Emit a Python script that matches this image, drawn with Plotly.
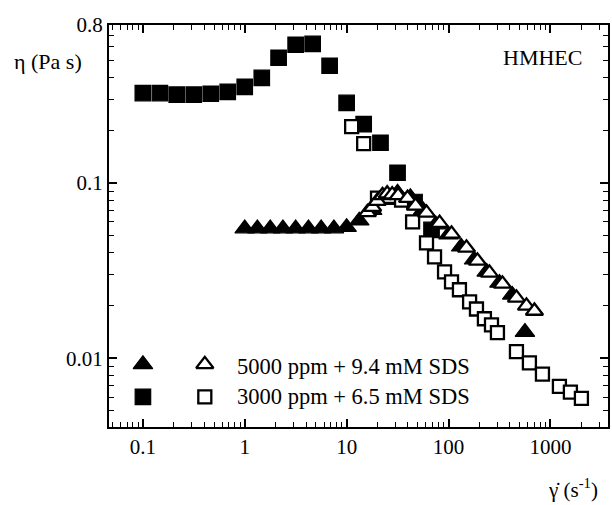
import plotly.graph_objects as go

# Shear rate (1/s) and viscosity (Pa s) for HMHEC solutions
# 3000 ppm + 6.5 mM SDS, low-shear instrument (filled squares)
rate_3000_low = [0.1, 0.147, 0.215, 0.316, 0.464, 0.681, 1.0, 1.47, 2.15, 3.16,
                 4.64, 6.81, 10.0, 14.7, 21.5, 31.6, 46.4, 68.1]
visc_3000_low = [0.327, 0.327, 0.320, 0.320, 0.324, 0.332, 0.355, 0.399, 0.520, 0.617,
                 0.624, 0.468, 0.287, 0.217, 0.170, 0.1146, 0.078, 0.054]

# 3000 ppm + 6.5 mM SDS, high-shear instrument (open squares)
rate_3000_high = [11.2, 14.7, 20.1, 26.4, 34.6, 44.4, 60.8, 72.9, 91.4, 107, 128, 161,
                  188, 225, 264, 302, 464, 622, 835, 1225, 1570, 2014]
visc_3000_high = [0.210, 0.168, 0.082, 0.084, 0.080, 0.0601, 0.0456, 0.0379, 0.0311,
                  0.0273, 0.0246, 0.0210, 0.0191, 0.0168, 0.0155, 0.0140, 0.0109,
                  0.0094, 0.0081, 0.0069, 0.0064, 0.0059]

# 5000 ppm + 9.4 mM SDS, low-shear instrument (filled triangles)
rate_5000_low = [1.0, 1.33, 1.78, 2.37, 3.16, 4.22, 5.62, 7.5, 10.0, 13.3, 17.8, 23.7,
                 31.6, 42.2, 56.2, 75.0, 100, 133, 178, 237, 316, 422, 562]
visc_5000_low = [0.055, 0.055, 0.055, 0.055, 0.055, 0.055, 0.055, 0.055, 0.056, 0.061,
                 0.070, 0.080, 0.088, 0.083, 0.070, 0.058, 0.0507, 0.0433, 0.0365,
                 0.0311, 0.0269, 0.0230, 0.0141]

# 5000 ppm + 9.4 mM SDS, high-shear instrument (open triangles)
rate_5000_high = [16.0, 18.0, 20.0, 22.5, 25.0, 28.0, 32.0, 39.6, 47.5, 60.8, 81.7,
                  107, 150, 192, 252, 338, 464, 582, 697]
visc_5000_high = [0.068, 0.073, 0.079, 0.085, 0.087, 0.086, 0.085, 0.082, 0.0741,
                  0.0676, 0.0591, 0.0513, 0.0427, 0.0360, 0.0307, 0.0266, 0.0221,
                  0.0199, 0.0186]

legend_labels = ["5000 ppm + 9.4 mM SDS", "3000 ppm + 6.5 mM SDS"]

x_ticks = [0.1, 1, 10, 100, 1000]
x_ticktext = ["0.1", "1", "10", "100", "1000"]
y_ticks = [0.01, 0.1, 0.8]
y_ticktext = ["0.01", "0.1", "0.8"]

FONT = "Liberation Serif, Times New Roman, Times, serif"
BLACK = "black"

FILLED_SQ = dict(symbol="square", size=15.5, color=BLACK, line=dict(color=BLACK, width=1.2))
OPEN_SQ = dict(symbol="square", size=13, color="white", line=dict(color=BLACK, width=2.3))
FILLED_TRI = dict(symbol="triangle-up", size=17, color=BLACK, line=dict(color=BLACK, width=1.2))
OPEN_TRI = dict(symbol="triangle-up", size=15, color="white", line=dict(color=BLACK, width=2.3))


def minor_values(lo_exp, hi_exp):
    vals = []
    for e in range(lo_exp, hi_exp + 1):
        for m in range(2, 10):
            vals.append(m * 10.0 ** e)
    return vals


fig = go.Figure()

series = [
    (rate_3000_low, visc_3000_low, FILLED_SQ),
    (rate_5000_low, visc_5000_low, FILLED_TRI),
    (rate_3000_high, visc_3000_high, OPEN_SQ),
    (rate_5000_high, visc_5000_high, OPEN_TRI),
]
for xs, ys, mk in series:
    fig.add_trace(go.Scatter(x=xs, y=ys, mode="markers", marker=mk, showlegend=False))

# Legend keys on an overlaid unit axis
key_x_filled, key_x_open, key_x_text = 0.068, 0.192, 0.253
key_rows = [0.156, 0.075]
legend_keys = [
    (key_x_filled, key_rows[0], FILLED_TRI),
    (key_x_open, key_rows[0], OPEN_TRI),
    (key_x_filled, key_rows[1], FILLED_SQ),
    (key_x_open, key_rows[1], OPEN_SQ),
]
for kx, ky, mk in legend_keys:
    fig.add_trace(go.Scatter(x=[kx], y=[ky], xaxis="x2", yaxis="y2", mode="markers",
                             marker=mk, showlegend=False, hoverinfo="skip"))

axis_common = dict(
    showline=True, linecolor=BLACK, linewidth=2, mirror="allticks",
    ticks="inside", ticklen=8, tickwidth=1.5, tickcolor=BLACK,
    showgrid=False, zeroline=False,
    tickfont=dict(family=FONT, size=21, color=BLACK),
)

fig.update_layout(
    width=612, height=505,
    margin=dict(l=109, r=2, t=25, b=78),
    paper_bgcolor="white", plot_bgcolor="white",
    font=dict(family=FONT, color=BLACK),
    xaxis=dict(type="log", range=[-1.332, 3.565], tickmode="array",
               tickvals=x_ticks, ticktext=x_ticktext,
               minor=dict(ticks="inside", ticklen=5, tickwidth=1.2, tickcolor=BLACK,
                          tickmode="array", tickvals=minor_values(-2, 3), showgrid=False),
               **axis_common),
    yaxis=dict(type="log", range=[-2.393, -0.0969], tickmode="array",
               tickvals=y_ticks, ticktext=y_ticktext,
               minor=dict(ticks="inside", ticklen=5, tickwidth=1.2, tickcolor=BLACK,
                          tickmode="array", tickvals=minor_values(-3, -1), showgrid=False),
               **axis_common),
    xaxis2=dict(overlaying="x", range=[0, 1], visible=False),
    yaxis2=dict(overlaying="y", range=[0, 1], visible=False),
)

annotations = [
    dict(text="η (Pa s)", x=-0.194, y=0.908, xanchor="left", yanchor="middle",
         font=dict(size=22)),
    dict(text="HMHEC", x=0.786, y=0.918, xanchor="left", yanchor="middle",
         font=dict(size=22)),
    dict(text="γ\u0307 (s<sup>-1</sup>)", x=0.984, y=-0.152, xanchor="right",
         yanchor="middle", font=dict(size=21)),
    dict(text=legend_labels[0], x=key_x_text, y=key_rows[0] - 0.006, xanchor="left",
         yanchor="middle", font=dict(size=22.5)),
    dict(text=legend_labels[1], x=key_x_text, y=key_rows[1], xanchor="left",
         yanchor="middle", font=dict(size=22.5)),
]
for a in annotations:
    a.update(xref="paper", yref="paper", showarrow=False)
    a["font"].update(family=FONT, color=BLACK)
fig.update_layout(annotations=annotations)

fig.write_html("out.html")
